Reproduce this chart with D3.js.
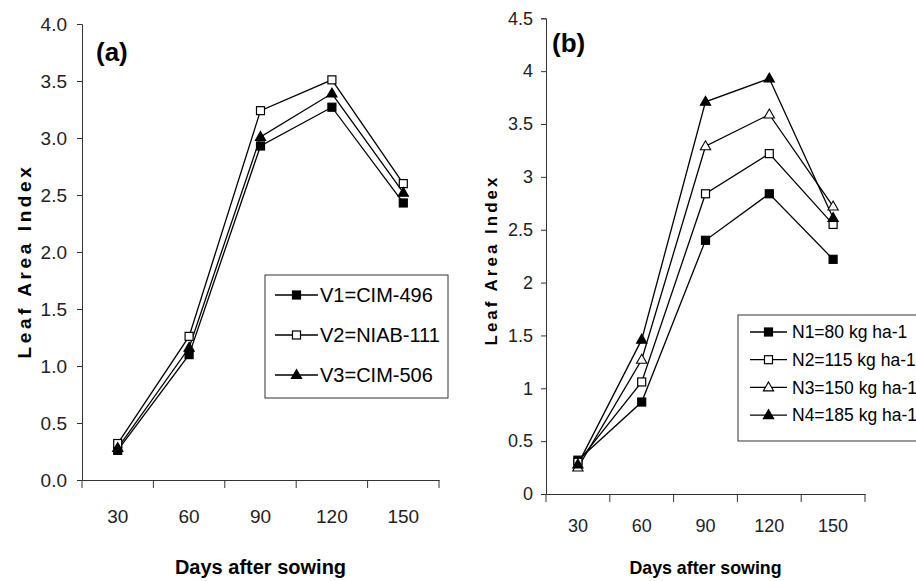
<!DOCTYPE html>
<html>
<head>
<meta charset="utf-8">
<style>
    body { margin: 0; background: #fff; }
    svg { display: block; font-family: 'Liberation Sans', Arial, sans-serif; }
    .axis path, .axis line { stroke: #333; }
    .axis text { fill: #222; }
</style>
</head>
<body>
<svg width="916" height="581"></svg>

<script src="https://d3js.org/d3.v7.min.js"></script>
<script>
    // data
    const days = ["30", "60", "90", "120", "150"];

    const varietyNames = ["V1=CIM-496", "V2=NIAB-111", "V3=CIM-506"];
    const v1 = [0.26, 1.10, 2.93, 3.27, 2.43];
    const v2 = [0.32, 1.26, 3.24, 3.51, 2.60];
    const v3 = [0.28, 1.16, 3.01, 3.39, 2.52];

    const nitroNames = ["N1=80 kg ha-1", "N2=115 kg ha-1", "N3=150 kg ha-1", "N4=185 kg ha-1"];
    const n1 = [0.32, 0.87, 2.40, 2.84, 2.22];
    const n2 = [0.30, 1.06, 2.84, 3.22, 2.55];
    const n3 = [0.25, 1.27, 3.29, 3.59, 2.72];
    const n4 = [0.28, 1.46, 3.71, 3.93, 2.61];

    const ticksA = [0, 0.5, 1, 1.5, 2, 2.5, 3, 3.5, 4];
    const ticksB = [0, 0.5, 1, 1.5, 2, 2.5, 3, 3.5, 4, 4.5];

    let svg = d3.select("svg");

    // marker shapes
    function marker(g, kind, x, y) {
        if (kind == "sq" || kind == "osq") {
            g.append("rect")
                .attr("x", x - 4).attr("y", y - 4)
                .attr("width", 8).attr("height", 8)
                .style("fill", kind == "sq" ? "#000" : "#fff")
                .style("stroke", "#000").style("stroke-width", 1.2);
        } else {
            g.append("path")
                .attr("d", d3.symbol(d3.symbolTriangle, 46)())
                .attr("transform", "translate(" + x + "," + (y + 0.5) + ")")
                .style("fill", kind == "tri" ? "#000" : "#fff")
                .style("stroke", "#000").style("stroke-width", 1.1);
        }
    }

    function panel(cfg) {
        let x = d3.scaleBand().domain(days).range([cfg.x0, cfg.x1]);
        let y = d3.scaleLinear().domain([0, cfg.yMax]).range([cfg.y0, cfg.y1]);
        let g = svg.append("g");

        let yAxis = g.append("g").attr("class", "axis")
            .attr("transform", "translate(" + cfg.x0 + ",0)")
            .call(d3.axisLeft(y).tickValues(cfg.ticks).tickFormat(cfg.fmt)
                .tickSizeOuter(0).tickSize(5).tickPadding(cfg.padY));
        yAxis.selectAll("text").style("font-size", cfg.tickFont + "px");

        let xAxis = g.append("g").attr("class", "axis")
            .attr("transform", "translate(0," + cfg.y0 + ")")
            .call(d3.axisBottom(x).tickSize(0).tickPadding(cfg.padX));
        xAxis.selectAll("text").style("font-size", cfg.tickFont + "px");
        // ticks on band edges
        xAxis.selectAll(".edge")
            .data(d3.range(days.length + 1))
            .join("line")
            .attr("x1", i => cfg.x0 + i * x.step())
            .attr("x2", i => cfg.x0 + i * x.step())
            .attr("y1", 0).attr("y2", 8)
            .style("stroke", "#333");

        g.append("text")
            .attr("x", (cfg.x0 + cfg.x1) / 2).attr("y", cfg.titleY)
            .attr("text-anchor", "middle")
            .style("font-size", cfg.titleFont + "px").style("font-weight", "bold")
            .text("Days after sowing");

        g.append("text")
            .attr("transform", "translate(" + cfg.ylabX + "," + cfg.ylabY + ") rotate(-90)")
            .attr("text-anchor", "middle")
            .style("font-size", cfg.ylabFont + "px").style("font-weight", "bold")
            .style("letter-spacing", cfg.ylabSpace + "px")
            .text("Leaf Area Index");

        g.append("text")
            .attr("x", cfg.tagX).attr("y", cfg.tagY)
            .style("font-size", "26px").style("font-weight", "bold")
            .text(cfg.tag);

        let line = d3.line()
            .x((d, i) => x(days[i]) + x.bandwidth() / 2)
            .y(d => y(d));

        cfg.series.forEach(s => {
            g.append("path").datum(s.values)
                .attr("d", line)
                .style("fill", "none").style("stroke", "#000").style("stroke-width", 1.3);
        });
        cfg.series.forEach(s => {
            s.values.forEach((v, i) => marker(g, s.kind, x(days[i]) + x.bandwidth() / 2, y(v)));
        });

        // legend
        let L = cfg.legend;
        g.append("rect")
            .attr("x", L.x).attr("y", L.y).attr("width", L.w).attr("height", L.h)
            .style("fill", "#fff").style("stroke", "#333").style("stroke-width", 1);
        cfg.series.forEach((s, i) => {
            let ry = L.y + L.first + i * L.step;
            g.append("line")
                .attr("x1", L.x + L.lx0).attr("x2", L.x + L.lx1)
                .attr("y1", ry).attr("y2", ry)
                .style("stroke", "#000").style("stroke-width", 1.3);
            marker(g, s.kind, L.x + (L.lx0 + L.lx1) / 2, ry);
            g.append("text")
                .attr("x", L.x + L.tx).attr("y", ry).attr("dy", "0.36em")
                .style("font-size", L.font + "px")
                .text(s.name);
        });
    }

    panel({
        x0: 82, x1: 439, y0: 480, y1: 24, yMax: 4,
        ticks: ticksA, fmt: d3.format(".1f"), padY: 10, padX: 30,
        tickFont: 19, titleFont: 20, titleY: 574,
        ylabX: 31, ylabY: 261, ylabFont: 19, ylabSpace: 3.6,
        tag: "(a)", tagX: 96, tagY: 61,
        series: [
            { name: varietyNames[0], values: v1, kind: "sq" },
            { name: varietyNames[1], values: v2, kind: "osq" },
            { name: varietyNames[2], values: v3, kind: "tri" }
        ],
        legend: { x: 265, y: 275, w: 183, h: 123, first: 20, step: 40, lx0: 10, lx1: 53, tx: 55, font: 20 }
    });

    panel({
        x0: 546, x1: 865, y0: 494, y1: 18.3, yMax: 4.5,
        ticks: ticksB, fmt: d => d, padY: 8, padX: 25,
        tickFont: 18, titleFont: 17.8, titleY: 574,
        ylabX: 497, ylabY: 260, ylabFont: 17, ylabSpace: 3,
        tag: "(b)", tagX: 552, tagY: 52,
        series: [
            { name: nitroNames[0], values: n1, kind: "sq" },
            { name: nitroNames[1], values: n2, kind: "osq" },
            { name: nitroNames[2], values: n3, kind: "otri" },
            { name: nitroNames[3], values: n4, kind: "tri" }
        ],
        legend: { x: 738, y: 315, w: 200, h: 126, first: 17, step: 27.7, lx0: 12, lx1: 49, tx: 54, font: 17.5 }
    });
</script>
</body>
</html>
